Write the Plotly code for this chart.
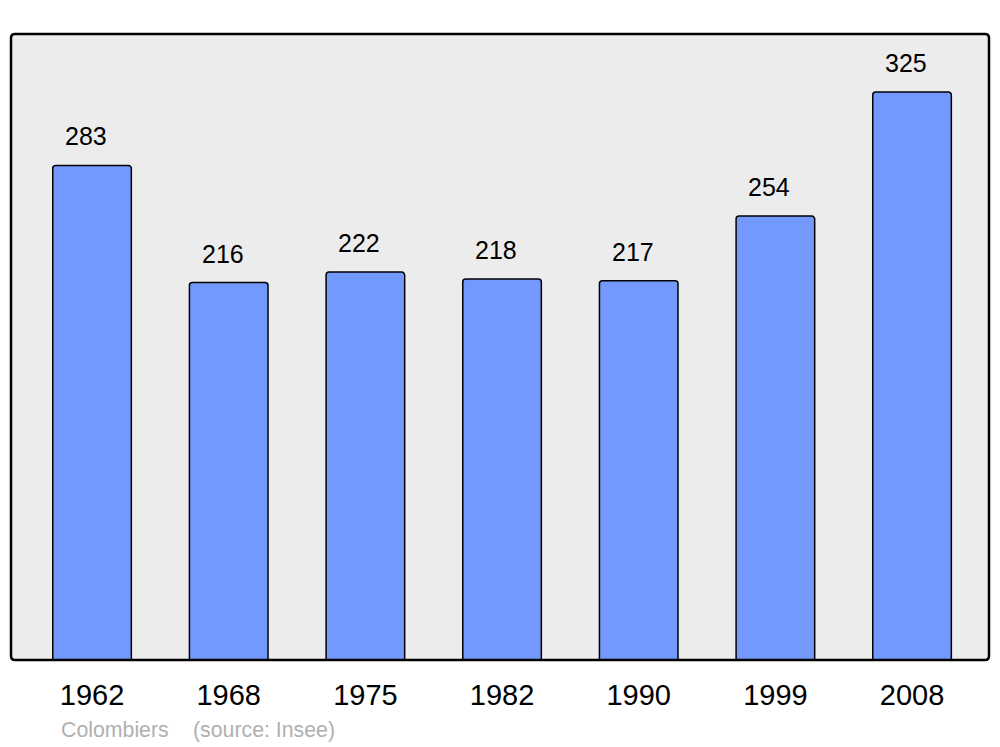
import plotly.graph_objects as go

annees = ["1962", "1968", "1975", "1982", "1990", "1999", "2008"]
population = [283, 216, 222, 218, 217, 254, 325]
commune = "Colombiers"
source = "(source: Insee)"

W, H = 1000, 747
ML, MR, MT, MB = 11, 11, 34, 87
pw, ph = W - ML - MR, H - MT - MB


def cadre_arrondi(w, h, r):
    # rectangle à coins arrondis, en pixels depuis le coin bas-gauche
    return (f"M {r},0 L {w - r},0 Q {w},0 {w},{r} L {w},{h - r} Q {w},{h} {w - r},{h} "
            f"L {r},{h} Q 0,{h} 0,{h - r} L 0,{r} Q 0,0 {r},0 Z")


fig = go.Figure()

fig.add_trace(go.Bar(
    x=list(range(len(annees))),
    y=population,
    width=0.575,
    marker=dict(color="#7399ff", line=dict(color="#000000", width=1.5), cornerradius=3),
    hoverinfo="skip",
))

# étiquettes de valeur au-dessus des barres (légèrement décalées à gauche)
for i, v in enumerate(population):
    fig.add_annotation(x=i, y=v, text=str(v), showarrow=False, yanchor="bottom",
                       yshift=13, xshift=-6, font=dict(size=25, color="#000000"))

# fond + bordure du graphique
for layer, fill, lw in [("below", "#ececec", 0), ("above", "rgba(0,0,0,0)", 2.5)]:
    fig.add_shape(type="path", xref="paper", yref="paper", xsizemode="pixel", ysizemode="pixel",
                  xanchor=0, yanchor=0, path=cadre_arrondi(pw, ph, 4),
                  fillcolor=fill, line=dict(color="#000000", width=lw), layer=layer)

fig.add_annotation(x=0.049, y=0, xref="paper", yref="paper", yshift=-84, xanchor="left", yanchor="bottom",
                   text=commune, showarrow=False, font=dict(size=21.3, color="#b0b0b0"))
fig.add_annotation(x=0.184, y=0, xref="paper", yref="paper", yshift=-84, xanchor="left", yanchor="bottom",
                   text=source, showarrow=False, font=dict(size=21.3, color="#b0b0b0"))

fig.update_layout(
    width=W, height=H,
    margin=dict(l=ML, r=MR, t=MT, b=MB),
    paper_bgcolor="#ffffff",
    plot_bgcolor="rgba(0,0,0,0)",
    font=dict(family="Liberation Sans, Arial, sans-serif", color="#000000"),
    showlegend=False,
    xaxis=dict(range=[-0.593, 6.563], tickvals=list(range(len(annees))), ticktext=annees,
               showgrid=False, zeroline=False, showline=False, ticks="",
               tickfont=dict(size=29), ticklabelstandoff=15),
    yaxis=dict(range=[0, 358.2], visible=False),
)

fig.write_html("out.html", config={"displayModeBar": False},
               post_script="document.body.style.margin='0';")
